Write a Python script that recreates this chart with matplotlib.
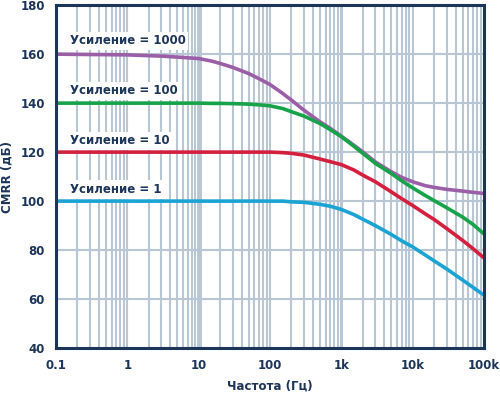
import numpy as np
import matplotlib
matplotlib.use('Agg')
from matplotlib import pyplot as plt

# frequencies (Hz)
freq = [0.1, 1, 3, 5, 10, 15, 20, 30, 50, 70, 100, 150, 200, 300, 500, 700,
        1000, 1500, 2000, 3000, 5000, 7000, 10000, 15000, 20000, 30000, 50000, 70000, 100000]

g1000 = [160, 159.7, 159.2, 158.8, 158.2, 157.2, 156.2, 154.6, 152.1, 150.0, 147.6, 144.0, 141.2, 137.1, 132.4, 129.7,
         126.5, 122.8, 120.1, 116.0, 112.0, 109.7, 107.9, 106.3, 105.6, 104.8, 104.1, 103.6, 103.1]
g100 = [140, 140, 140, 140, 140, 139.9, 139.9, 139.8, 139.6, 139.3, 138.9, 137.8, 136.5, 134.7, 131.7, 129.2,
        126.3, 122.4, 119.5, 115.4, 111.3, 108.3, 105.4, 102.3, 100.2, 97.3, 93.5, 90.5, 86.6]
g10 = [120, 120, 120, 120, 120, 120, 120, 120, 120, 120, 120, 119.8, 119.5, 118.8, 117.2, 116.1,
       114.9, 112.7, 110.6, 107.9, 103.8, 101.0, 98.2, 94.8, 92.5, 88.8, 84.0, 80.6, 76.8]
g1 = [100, 100, 100, 100, 100, 100, 100, 100, 100, 100, 100, 100, 99.7, 99.5, 98.7, 97.9,
      96.6, 94.5, 92.6, 90.0, 86.4, 83.8, 81.3, 78.0, 75.6, 72.3, 67.8, 64.8, 61.6]

series = [g1000, g100, g10, g1]
colors = ['#9b5fa8', '#16a34a', '#d41f3f', '#1ba3d4']
labels = ['Усиление = 1000', 'Усиление = 100', 'Усиление = 10', 'Усиление = 1']
label_y = [165.4, 145, 124.6, 104.8]

xticks = [0.1, 1, 10, 100, 1000, 10000, 100000]
xticklabels = ['0.1', '1', '10', '100', '1k', '10k', '100k']
yticks = [40, 60, 80, 100, 120, 140, 160, 180]

navy = '#1d3559'
gridc = '#b8c7d3'

plt.rcParams['font.family'] = ['DejaVu Sans']

fig = plt.figure(figsize=(5, 3.96), dpi=100)
ax = fig.add_axes([0.112, 0.121, 0.856, 0.866])

ax.set_xscale('log')
ax.set_xlim(0.1, 100000)
ax.set_ylim(40, 180)

# grid: decades + minor lines, horizontal lines every 20
for d in range(-1, 5):
    for m in range(1, 10):
        f = m * 10.0 ** d
        if f <= 0.1 or f >= 100000:
            continue
        lw = 1.5
        if f == 10:
            lw = 3.5
        elif f == 1000:
            lw = 2.2
        ax.axvline(f, color=gridc, lw=lw, zorder=0)
for y in yticks[1:-1]:
    ax.axhline(y, color=gridc, lw=1.5, zorder=0)

for vals, c in zip(series, colors):
    ax.plot(freq, vals, color=c, lw=2.6, zorder=3, solid_capstyle='butt', solid_joinstyle='round')

for lab, ly in zip(labels, label_y):
    ax.text(0.155, ly, lab, fontsize=8.5, fontweight='bold', color=navy, va='center', ha='left', zorder=4,
            bbox=dict(facecolor='white', edgecolor='none', pad=2))

ax.set_xticks(xticks)
ax.set_xticklabels(xticklabels)
ax.xaxis.set_minor_locator(matplotlib.ticker.NullLocator())
ax.set_yticks(yticks)
ax.tick_params(length=0, labelsize=8.5, colors=navy, pad=8)
for t in ax.get_xticklabels() + ax.get_yticklabels():
    t.set_fontweight('bold')

for s in ax.spines.values():
    s.set_color(navy)
    s.set_linewidth(2.2)
    s.set_zorder(5)

ax.set_xlabel('Частота (Гц)', fontsize=8.5, fontweight='bold', color=navy, labelpad=5)
ax.set_ylabel('CMRR (дБ)', fontsize=8.5, fontweight='bold', color=navy, labelpad=5)

fig.savefig('out.png', dpi=100)
